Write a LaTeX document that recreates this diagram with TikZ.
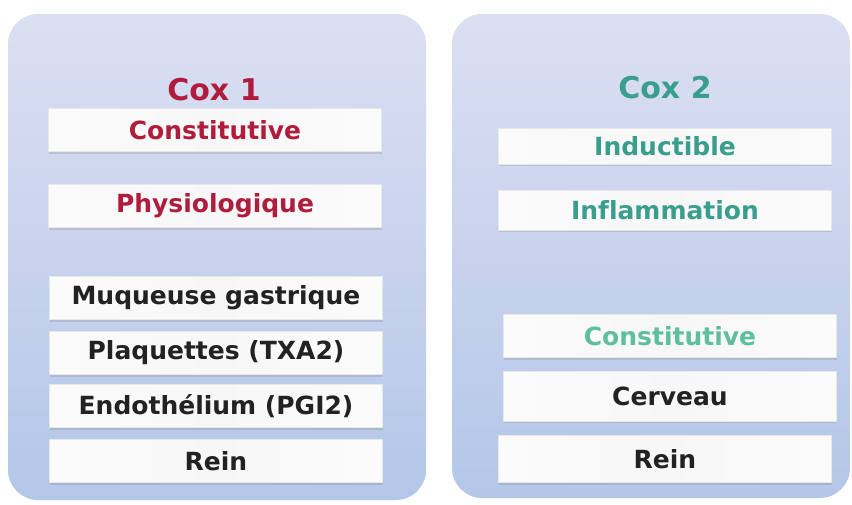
\documentclass[tikz,border=0pt]{standalone}
\usepackage{fontspec}
\setmainfont{DejaVu Sans}[Ligatures=NoCommon]
\usetikzlibrary{shadows}
\definecolor{panTop}{HTML}{DCDFF2}
\definecolor{panBot}{HTML}{B3C7E8}
\definecolor{redT}{HTML}{B01C3C}
\definecolor{tealT}{HTML}{3A9E8E}
\definecolor{tealL}{HTML}{5DBF9F}
\definecolor{blkT}{HTML}{222222}
\definecolor{edgeG}{HTML}{D0D0D0}
\definecolor{midG}{HTML}{F7F7F7}
\pgfdeclarehorizontalshading{boxsh}{100bp}{color(0bp)=(edgeG); color(3bp)=(white); color(50bp)=(midG); color(96bp)=(white); color(100bp)=(edgeG)}
\tikzset{
  panel/.style={rounded corners=30pt, top color=panTop, bottom color=panBot, draw=none},
  itembox/.style={minimum width=333pt, minimum height=43pt, inner sep=0pt,
     shading=boxsh, draw=white!82!gray, line width=0.6pt,
     drop shadow={shadow xshift=0pt, shadow yshift=-2pt, opacity=0.25},
     font=\fontsize{25}{29}\selectfont\bfseries},
  title/.style={font=\fontsize{30}{34}\selectfont\bfseries, inner sep=0pt}
}
\begin{document}
\begin{tikzpicture}[x=1pt, y=-1pt]
\useasboundingbox (0,0) rectangle (852,504);
\fill[white] (0,0) rectangle (852,504);
\path[panel] (8,14) rectangle (426,500);
\path[panel] (452,14) rectangle (850,498);
% left column
\node[title, text=redT] (c1) at (214,90) {Cox 1};
\node[itembox, text=redT] (l1) at (215,130) {Constitutive};
\node[itembox, text=redT] (l2) at (215,206) {Physiologique};
\node[itembox, text=blkT] (l3) at (216,298) {Muqueuse gastrique};
\node[itembox, text=blkT] (l4) at (216,353) {Plaquettes (TXA2)};
\node[itembox, text=blkT] (l5) at (216,406) {Endothélium (PGI2)};
\node[itembox, text=blkT] (l6) at (216,461) {Rein};
% right column
\node[title, text=tealT] (c2) at (665,88) {Cox 2};
\node[itembox, text=tealT, minimum height=36pt] (r1) at (665,146) {Inductible};
\node[itembox, text=tealT, minimum height=40pt] (r2) at (665,210) {Inflammation};
\node[itembox, text=tealL] (r3) at (670,336) {Constitutive};
\node[itembox, text=blkT, minimum height=50pt] (r4) at (670,396) {Cerveau};
\node[itembox, text=blkT, minimum height=47pt] (r5) at (665,459) {Rein};
\end{tikzpicture}
\end{document}
